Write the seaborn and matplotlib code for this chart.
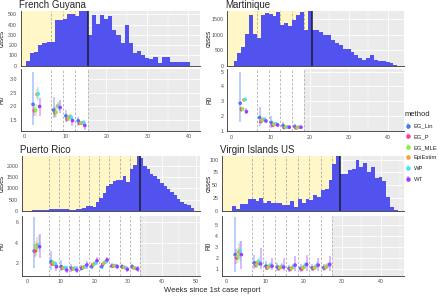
import numpy as np
import pandas as pd
import matplotlib
matplotlib.use('Agg')
import matplotlib.pyplot as plt
import seaborn as sns
from matplotlib.ticker import MultipleLocator, FixedLocator

methods = ['EG_Lin', 'EG_P', 'EG_MLE', 'EpiEstim', 'WP', 'WT']
colors = ['#4a78f5', '#ff3c9a', '#7cf53a', '#ffa032', '#3ce6ff', '#a03cff']

# ---- French Guyana
fg_weeks = list(range(1, 41))
fg_cases = [48, 120, 135, 203, 216, 226, 232, 442, 448, 458, 506, 500, 480, 529, 532,
            303, 490, 403, 490, 458, 480, 345, 297, 216, 394, 216, 119, 142, 103, 71,
            65, 87, 29, 81, 87, 32, 39, 32, 32, 35]
fg_peak = 15.5
fg_bounds = [6.5, 9.5, 12.5, 15.5]
fg_win = [3, 8, 11, 14]
fg_est = [[2.08, 1.85, 1.86, 2.44, 2.46, 2.00],
          [1.87, 1.78, 1.79, 2.02, 2.00, 1.96],
          [1.66, 1.55, 1.57, 1.63, 1.61, 1.49],
          [1.48, 1.39, 1.39, 1.39, 1.42, 1.31]]
fg_lo = [[1.31, 1.65, 1.66, 2.26, 2.20, 1.66],
         [1.57, 1.62, 1.62, 1.86, 1.84, 1.76],
         [1.45, 1.44, 1.46, 1.53, 1.51, 1.30],
         [1.29, 1.31, 1.31, 1.32, 1.35, 1.16]]
fg_hi = [[3.24, 2.08, 2.08, 2.64, 2.70, 2.30],
         [2.36, 1.98, 1.98, 2.18, 2.16, 2.24],
         [1.87, 1.67, 1.68, 1.73, 1.72, 1.66],
         [1.63, 1.48, 1.48, 1.46, 1.50, 1.45]]

# ---- Martinique
mq_weeks = list(range(1, 43))
mq_cases = [142, 415, 600, 1040, 1640, 1040, 900, 1640, 1720, 1670, 1620, 1730, 1310, 1390,
            1280, 1480, 1640, 1750, 1170, 1772, 1150, 1170, 1094, 1007, 1007, 820, 733, 678,
            547, 547, 437, 350, 240, 197, 252, 350, 186, 164, 142, 109, 77, 33]
mq_peak = 20.5
mq_bounds = [6.5, 9.5, 12.5, 15.5, 18.5]
mq_win = [3, 8, 11, 14, 17]
mq_est = [[2.87, 2.46, 2.46, 3.09, 3.13, 2.30],
          [1.90, 1.63, 1.70, 1.79, 1.79, 1.67],
          [1.56, 1.38, 1.45, 1.47, 1.47, 1.40],
          [1.36, 1.22, 1.25, 1.27, 1.27, 1.25],
          [1.29, 1.20, 1.22, 1.25, 1.25, 1.25]]
mq_lo = [[1.63, 2.30, 2.32, 2.98, 3.02, 2.12],
         [1.34, 1.52, 1.58, 1.70, 1.70, 1.55],
         [1.22, 1.30, 1.37, 1.40, 1.40, 1.30],
         [1.11, 1.15, 1.18, 1.21, 1.21, 1.16],
         [1.11, 1.13, 1.15, 1.19, 1.19, 1.16]]
mq_hi = [[4.96, 2.64, 2.62, 3.22, 3.25, 2.53],
         [2.60, 1.76, 1.82, 1.89, 1.89, 1.80],
         [2.00, 1.47, 1.53, 1.55, 1.55, 1.51],
         [1.63, 1.30, 1.33, 1.34, 1.34, 1.35],
         [1.45, 1.28, 1.30, 1.32, 1.32, 1.34]]

# ---- Puerto Rico
pr_weeks = list(range(1, 50))
pr_cases = [5, 10, 15, 20, 30, 50, 80, 90, 85, 60, 65, 70, 50, 45, 60, 80, 110, 200, 230, 180,
            380, 560, 800, 1100, 1200, 1330, 1380, 1360, 1550, 1300, 1870, 2050, 2450, 2350,
            2000, 1850, 1650, 1550, 1420, 1250, 1120, 970, 820, 700, 530, 400, 320, 250, 120]
pr_peak = 33.5
pr_bounds = [6.5, 9.5, 12.5, 15.5, 18.5, 21.5, 24.5, 27.5, 30.5, 33.5]
pr_win = [3, 8, 11, 14, 17, 20, 23, 26, 29, 32]
pr_est = [[3.19, 3.20, 3.45, 3.77, 3.77, 3.60],
          [2.16, 1.94, 2.05, 1.90, 1.94, 1.68],
          [1.68, 1.52, 1.55, 1.58, 1.58, 1.35],
          [1.52, 1.45, 1.45, 1.52, 1.52, 1.35],
          [1.52, 1.58, 1.62, 1.68, 1.68, 1.84],
          [1.68, 1.84, 1.92, 2.00, 2.00, 2.25],
          [1.68, 1.90, 2.00, 2.10, 2.16, 2.32],
          [1.74, 1.74, 1.77, 1.77, 1.77, 1.68],
          [1.68, 1.61, 1.61, 1.58, 1.52, 1.42],
          [1.68, 1.58, 1.55, 1.52, 1.48, 1.45]]
pr_lo = [[1.52, 2.60, 2.75, 3.10, 3.05, 2.48],
         [1.35, 1.70, 1.80, 1.70, 1.72, 1.30],
         [1.26, 1.35, 1.40, 1.45, 1.45, 1.05],
         [1.20, 1.30, 1.30, 1.40, 1.40, 1.05],
         [1.25, 1.40, 1.45, 1.55, 1.55, 1.45],
         [1.40, 1.65, 1.75, 1.85, 1.85, 1.90],
         [1.40, 1.70, 1.80, 1.95, 2.00, 2.00],
         [1.50, 1.60, 1.62, 1.65, 1.65, 1.45],
         [1.45, 1.48, 1.48, 1.47, 1.42, 1.15],
         [1.45, 1.45, 1.43, 1.42, 1.38, 1.20]]
pr_hi = [[6.52, 3.85, 4.15, 4.50, 4.74, 4.80],
         [3.19, 2.20, 2.30, 2.10, 2.18, 2.15],
         [2.32, 1.70, 1.72, 1.72, 1.72, 1.72],
         [1.90, 1.60, 1.60, 1.65, 1.65, 1.70],
         [1.85, 1.75, 1.80, 1.82, 1.82, 2.25],
         [2.00, 2.02, 2.10, 2.15, 2.15, 2.60],
         [2.00, 2.10, 2.20, 2.25, 2.32, 2.65],
         [2.00, 1.88, 1.92, 1.90, 1.90, 1.92],
         [1.95, 1.75, 1.75, 1.70, 1.63, 1.68],
         [1.95, 1.72, 1.68, 1.62, 1.58, 1.70]]

# ---- Virgin Islands US
vi_weeks = list(range(2, 45))
vi_cases = [10, 4, 13, 13, 23, 22, 18, 24, 15, 18, 15, 16, 15, 12, 11, 18, 8, 23, 16, 22, 20,
            31, 26, 41, 43, 61, 92, 107, 72, 72, 79, 82, 100, 85, 93, 76, 85, 64, 66, 59, 26, 7, 2]
vi_peak = 29.5
vi_bounds = [6.5, 9.5, 12.5, 15.5, 18.5, 21.5, 24.5, 27.5]
vi_win = [3, 8, 11, 14, 17, 20, 23, 26]
vi_est = [[2.34, 2.04, 2.19, 2.57, 2.69, 2.34],
          [1.59, 1.39, 1.45, 1.59, 1.68, 1.50],
          [1.30, 1.15, 1.20, 1.30, 1.39, 1.30],
          [1.21, 1.09, 1.15, 1.21, 1.30, 1.21],
          [1.09, 1.00, 1.09, 1.21, 1.30, 1.39],
          [1.09, 1.03, 1.15, 1.24, 1.36, 1.45],
          [1.15, 1.09, 1.15, 1.27, 1.36, 1.39],
          [1.15, 1.15, 1.21, 1.30, 1.39, 1.45]]
vi_lo = [[0.76, 1.45, 1.60, 1.90, 1.75, 1.00],
         [1.00, 1.10, 1.15, 1.30, 1.35, 1.00],
         [0.91, 0.95, 1.00, 1.08, 1.10, 0.91],
         [0.85, 0.90, 0.95, 1.00, 1.05, 0.85],
         [0.80, 0.85, 0.90, 1.00, 1.05, 0.85],
         [0.80, 0.85, 0.95, 1.02, 1.10, 0.88],
         [0.85, 0.90, 0.95, 1.05, 1.10, 0.85],
         [0.85, 0.95, 1.00, 1.08, 1.12, 0.85]]
vi_hi = [[5.69, 2.80, 2.90, 3.30, 3.52, 3.58],
         [2.34, 1.75, 1.85, 1.95, 2.10, 2.93],
         [1.74, 1.40, 1.45, 1.55, 1.70, 2.04],
         [1.60, 1.30, 1.38, 1.45, 1.60, 2.00],
         [1.40, 1.20, 1.30, 1.45, 1.60, 2.19],
         [1.45, 1.25, 1.40, 1.50, 1.65, 2.34],
         [1.50, 1.30, 1.40, 1.50, 1.65, 2.04],
         [1.50, 1.40, 1.45, 1.55, 1.70, 2.19]]

sns.set_style('darkgrid', {'axes.facecolor': '#EBEBEB', 'grid.color': 'white'})
plt.rcParams['font.family'] = ['Liberation Sans', 'DejaVu Sans']

W, H = 440, 297
fig = plt.figure(figsize=(W / 100, H / 100), dpi=100)
pal = dict(zip(methods, colors))
dodge = dict(zip(methods, np.linspace(-0.8, 0.8, 6)))


def px_axes(l, t, r, b):
    return fig.add_axes([l / W, 1 - b / H, (r - l) / W, (b - t) / H])


def style_ax(ax, ylabel, box, label_x):
    ax.set_axisbelow(True)
    ax.xaxis.set_minor_locator(MultipleLocator(5))
    ax.grid(which='major', color='white', lw=0.6)
    ax.grid(which='minor', color='white', lw=0.3)
    for s in ['top', 'right']:
        ax.spines[s].set_visible(False)
    for s in ['left', 'bottom']:
        ax.spines[s].set_visible(True)
        ax.spines[s].set_color('#333333')
        ax.spines[s].set_linewidth(0.6)
    ax.tick_params(which='major', labelsize=3.8, colors='#4d4d4d', length=1.5, width=0.5, pad=1)
    ax.tick_params(which='minor', length=0)
    ax.set_ylabel(ylabel, fontsize=4.8)
    ax.yaxis.set_label_coords((label_x - box[0]) / (box[2] - box[0]), 0.5)
    ax.set_xlabel('')


def draw_region(name, box_hist, box_r0, label_x, xlim, weeks, cases, peak, bounds, hist_ticks,
                win, est, lo, hi, r0_ylim, r0_ticks, xticks):
    fig.text((box_hist[0] - 2) / W, 1 - (box_hist[1] - 6) / H, name, fontsize=7,
             va='center', ha='left')
    # histogram of weekly cases
    ax = px_axes(*box_hist)
    ax.axvspan(xlim[0], peak, color='#FFF7C8', lw=0, zorder=0.6)
    for v in bounds:
        ax.axvline(v, color='#a8a8a8', ls=(0, (3, 2)), lw=0.6, zorder=0.8)
    sns.histplot(x=weeks, weights=cases, discrete=True, color='#5252EE', alpha=1,
                 linewidth=0, ax=ax, zorder=2)
    ax.axvline(peak, color='#1c1c30', lw=1.1, zorder=3)
    ax.set_xlim(xlim)
    ax.set_ylim(0, max(cases))
    ax.yaxis.set_major_locator(FixedLocator(hist_ticks))
    ax.xaxis.set_major_locator(FixedLocator(xticks))
    style_ax(ax, 'cases', box_hist, label_x)
    ax.tick_params(labelbottom=False)

    # R0 estimates
    rows = []
    for i, w in enumerate(win):
        for j, m in enumerate(methods):
            rows.append({'week': w, 'method': m, 'R0': est[i][j], 'lo': lo[i][j], 'hi': hi[i][j]})
    df = pd.DataFrame(rows)
    df['x'] = df['week'] + df['method'].map(dodge)

    ax2 = px_axes(*box_r0)
    ax2.axvspan(xlim[0], bounds[-1], color='white', lw=0, zorder=0.6)
    for v in bounds:
        ax2.axvline(v, color='#b0b0b0', ls=(0, (3, 2)), lw=0.6, zorder=0.8)
    for m in methods:
        d = df[df['method'] == m]
        ax2.vlines(d['x'], d['lo'], d['hi'], color=pal[m], alpha=0.4, lw=1.3, zorder=3)
    sns.scatterplot(data=df, x='x', y='R0', hue='method', palette=pal, s=7, linewidth=0,
                    legend=False, ax=ax2, zorder=4)
    ax2.set_xlim(xlim)
    ax2.set_ylim(r0_ylim)
    ax2.xaxis.set_major_locator(FixedLocator(xticks))
    ax2.yaxis.set_major_locator(FixedLocator(r0_ticks))
    style_ax(ax2, 'R0', box_r0, label_x)


draw_region('French Guyana', (20.7, 11, 199.5, 65.7), (20.7, 69, 199.5, 131), 5.5, (-0.8, 42.7),
            fg_weeks, fg_cases, fg_peak, fg_bounds, [0, 100, 200, 300, 400, 500],
            fg_win, fg_est, fg_lo, fg_hi, (1.11, 3.36), [1.5, 2.0, 2.5, 3.0], [0, 10, 20, 30, 40])
draw_region('Martinique', (227.3, 11, 404, 65.7), (227.3, 69, 404, 131.5), 213, (-1.1, 44.2),
            mq_weeks, mq_cases, mq_peak, mq_bounds, [0, 500, 1000, 1500],
            mq_win, mq_est, mq_lo, mq_hi, (0.96, 5.18), [1, 2, 3, 4, 5], [0, 10, 20, 30, 40])
draw_region('Puerto Rico', (21.7, 156, 200, 210.7), (21.7, 215.7, 200, 276), 5.5, (-1.5, 51.3),
            pr_weeks, pr_cases, pr_peak, pr_bounds, [0, 500, 1000, 1500, 2000],
            pr_win, pr_est, pr_lo, pr_hi, (0.77, 6.6), [2, 4, 6], [0, 10, 20, 30, 40, 50])
draw_region('Virgin Islands US', (221.7, 156, 404, 210.7), (221.7, 215.7, 404, 276), 212.5, (-1.3, 46.1),
            vi_weeks, vi_cases, vi_peak, vi_bounds, [0, 25, 50, 75, 100],
            vi_win, vi_est, vi_lo, vi_hi, (0.41, 5.84), [1, 2, 3, 4, 5], [0, 10, 20, 30, 40])

# legend
hidden = fig.add_axes([0, 0, 0.01, 0.01])
hidden.set_visible(False)
handles = []
for m in methods:
    h = hidden.errorbar([0], [0], yerr=[[1], [1]], fmt='o', color=pal[m], ms=2.2,
                        elinewidth=1.2, ecolor=matplotlib.colors.to_rgba(pal[m], 0.45))
    handles.append(h)
leg = fig.legend(handles, methods, title='method', loc='upper left',
                 bbox_to_anchor=(405 / W, 1 - 111 / H), frameon=False, fontsize=4.2,
                 title_fontsize=5.5, handlelength=1.0, handletextpad=0.5, labelspacing=0.95,
                 borderaxespad=0, borderpad=0, alignment='left')

fig.text(212 / W, 1 - 291 / H, 'Weeks since 1st case report', ha='center', va='center', fontsize=5.5)

fig.savefig('out.png', dpi=100)
